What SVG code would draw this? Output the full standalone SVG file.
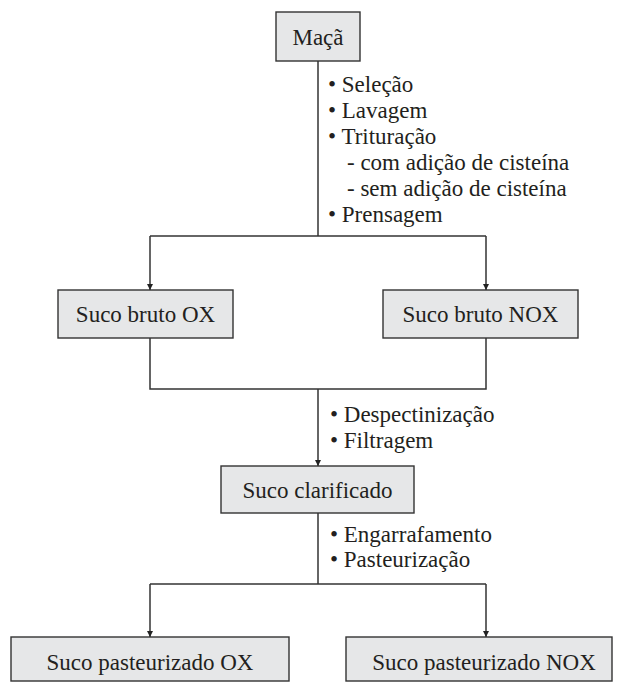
<svg xmlns="http://www.w3.org/2000/svg" width="622" height="682" viewBox="0 0 622 682">
<defs>
<style>
.box{fill:#e6e7e8;stroke:#333;stroke-width:1.4}
.lbl{font-size:23px;fill:#231f20;text-anchor:middle}
.note{font-size:23px;fill:#231f20}
.ln{fill:none;stroke:#333;stroke-width:1.5}
</style>
<marker id="arr" viewBox="0 0 10 10" refX="10" refY="5" markerWidth="6" markerHeight="8" markerUnits="userSpaceOnUse" orient="auto"><path d="M0,0 L10,5 L0,10 Z" fill="#222"/></marker>
</defs>
<rect width="622" height="682" fill="#fff"/>
<g id="connectors">
<path class="ln" d="M318,61 V236"/>
<path class="ln" d="M150,236 H486"/>
<path class="ln" d="M150,236 V290" marker-end="url(#arr)"/>
<path class="ln" d="M486,236 V290" marker-end="url(#arr)"/>
<path class="ln" d="M150,338 V389 H486 V338"/>
<path class="ln" d="M318,389 V466" marker-end="url(#arr)"/>
<path class="ln" d="M318,513 V584"/>
<path class="ln" d="M150,584 H486"/>
<path class="ln" d="M150,584 V637" marker-end="url(#arr)"/>
<path class="ln" d="M486,584 V637" marker-end="url(#arr)"/>
</g>
<g font-family="Liberation Serif, DejaVu Serif, serif">
<g id="notes">
<text class="note" x="328" y="92">• Seleção</text>
<text class="note" x="328" y="118">• Lavagem</text>
<text class="note" x="328" y="144">• Trituração</text>
<text class="note" x="347" y="170">- com adição de cisteína</text>
<text class="note" x="347" y="196">- sem adição de cisteína</text>
<text class="note" x="328" y="222">• Prensagem</text>
<text class="note" x="330" y="422">• Despectinização</text>
<text class="note" x="330" y="448">• Filtragem</text>
<text class="note" x="330" y="542">• Engarrafamento</text>
<text class="note" x="330" y="567">• Pasteurização</text>
</g>
<g id="maca">
<rect class="box" x="276" y="12" width="84" height="49"/>
<text class="lbl" x="318" y="45">Maçã</text>
</g>
<g id="bruto-ox">
<rect class="box" x="58" y="290" width="175" height="48"/>
<text class="lbl" x="145.5" y="322">Suco bruto OX</text>
</g>
<g id="bruto-nox">
<rect class="box" x="383" y="290" width="195" height="48"/>
<text class="lbl" x="480.5" y="322">Suco bruto NOX</text>
</g>
<g id="clarificado">
<rect class="box" x="221" y="466" width="193" height="47"/>
<text class="lbl" x="317.5" y="498">Suco clarificado</text>
</g>
<g id="past-ox">
<rect class="box" x="11" y="637" width="278" height="44"/>
<text class="lbl" x="150" y="670">Suco pasteurizado OX</text>
</g>
<g id="past-nox">
<rect class="box" x="346" y="637" width="266" height="44"/>
<text class="lbl" x="484" y="670">Suco pasteurizado NOX</text>
</g>
</g>
</svg>
